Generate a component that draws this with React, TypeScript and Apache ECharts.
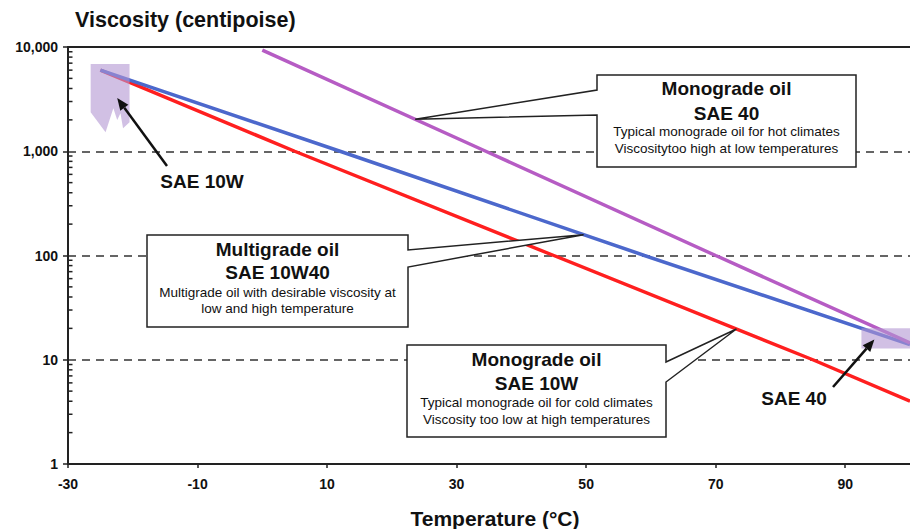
import React, { useEffect, useRef } from 'react';
import * as echarts from 'echarts';

// ---- Data ----
const xTickValues = [-30, -10, 10, 30, 50, 70, 90];
const yDecades = [1, 10, 100, 1000];
const yMinorMultipliers = [2, 3, 4, 5, 6, 7, 8, 9];

const temps10W = [-25, 5, 45, 85, 100];
const visc10W = [6000, 1000, 100, 10, 4];

const temps10W40 = [-25, 12, 59, 100];
const visc10W40 = [6000, 1000, 100, 14];

const temps40 = [0, 34.5, 70, 100];
const visc40 = [9350, 1000, 100, 14.5];

// shaded viscosity ranges [temperature, viscosity]
const shade10W: number[][] = [
  [-26.5, 6870], [-20.5, 6870], [-20.5, 1900], [-21.5, 1660], [-21.9, 2320],
  [-22.4, 1990], [-23.0, 2590], [-24.2, 1520], [-26.5, 2370],
];
const shade40: number[][] = [[92.5, 20], [100, 20], [100, 12.8], [92.5, 12.8]];

const FONT = '"Liberation Sans", Arial, Helvetica, sans-serif';
const RED = '#ff1f1f';
const BLUE = '#4c68cc';
const PURPLE = '#b65cc4';
const INK = '#111';

function logInterp(ts: number[], vs: number[], t: number): number {
  for (let i = 0; i < ts.length - 1; i++) {
    if (t >= ts[i] && t <= ts[i + 1]) {
      const f = (t - ts[i]) / (ts[i + 1] - ts[i]);
      const l = Math.log10(vs[i]) + f * (Math.log10(vs[i + 1]) - Math.log10(vs[i]));
      return Math.pow(10, l);
    }
  }
  return vs[vs.length - 1];
}

const zip = (a: number[], b: number[]) => a.map((t, i) => [t, b[i]]);

export default function App() {
  const ref = useRef<HTMLDivElement>(null);
  useEffect(() => {
    if (!ref.current) return;
    const chart = echarts.init(ref.current, undefined, { renderer: 'svg' });

    const minorTicks: number[][] = [];
    yDecades.forEach((d) => yMinorMultipliers.forEach((m) => minorTicks.push([-30, d * m])));

    const shadeSeries = (pts: number[][], name: string) => ({
      type: 'custom',
      name,
      z: 5,
      silent: true,
      data: [pts[0]],
      encode: { x: 0, y: 1 },
      renderItem: (params: any, api: any) => {
        const points = pts.map((p) => api.coord(p));
        return {
          type: 'polygon',
          shape: { points },
          style: { fill: 'rgba(178,150,210,0.6)' },
        };
      },
    });

    chart.setOption({
      animation: false,
      grid: { left: 68, top: 47, right: -11, bottom: 65 },
      xAxis: [
        {
          type: 'value',
          min: -30,
          max: 100,
          axisLine: { show: true, onZero: false, lineStyle: { color: '#222', width: 2 } },
          axisTick: { show: true, length: 4, customValues: xTickValues, lineStyle: { color: '#222', width: 1.5 } },
          axisLabel: {
            customValues: xTickValues,
            fontFamily: FONT,
            fontSize: 14,
            fontWeight: 'bold',
            color: INK,
            margin: 13,
          },
          splitLine: { show: false },
        },
        {
          type: 'value',
          position: 'top',
          min: -30,
          max: 100,
          axisLine: { show: true, onZero: false, lineStyle: { color: '#222', width: 2 } },
          axisTick: { show: false },
          axisLabel: { show: false },
          splitLine: { show: false },
        },
      ],
      yAxis: {
        type: 'log',
        logBase: 10,
        min: 1,
        max: 10000,
        axisLine: { show: true, onZero: false, lineStyle: { color: '#222', width: 2 } },
        axisTick: { show: true, length: 5, lineStyle: { color: '#222', width: 1.5 } },
        axisLabel: {
          formatter: (v: number) => Math.round(v).toLocaleString('en-US'),
          fontFamily: FONT,
          fontSize: 14,
          fontWeight: 'bold',
          color: INK,
          margin: 10,
        },
        splitLine: { show: true, lineStyle: { type: [8, 6], color: '#333', width: 1.5 } },
      },
      series: [
        {
          type: 'line', name: 'SAE 10W', data: zip(temps10W, visc10W), showSymbol: false,
          lineStyle: { color: RED, width: 3.5 }, z: 3,
        },
        {
          type: 'line', name: 'SAE 10W40', data: zip(temps10W40, visc10W40), showSymbol: false,
          lineStyle: { color: BLUE, width: 3.5 }, z: 3,
        },
        {
          type: 'line', name: 'SAE 40', data: zip(temps40, visc40), showSymbol: false,
          lineStyle: { color: PURPLE, width: 3.5 }, z: 3,
        },
        shadeSeries(shade10W, 'range10W'),
        shadeSeries(shade40, 'range40'),
        {
          type: 'custom',
          name: 'minorTicks',
          silent: true,
          z: 6,
          data: minorTicks,
          encode: { x: 0, y: 1 },
          renderItem: (params: any, api: any) => {
            const p = api.coord([api.value(0), api.value(1)]);
            return {
              type: 'line',
              shape: { x1: p[0], y1: p[1], x2: p[0] + 4.5, y2: p[1] },
              style: { stroke: '#222', lineWidth: 1.5 },
            };
          },
        },
      ],
    });

    const px = (t: number, v: number) => chart.convertToPixel({ xAxisIndex: 0, yAxisIndex: 0 }, [t, v]) as number[];

    const tip40 = px(23.6, logInterp(temps40, visc40, 23.6));
    const tip10W40 = px(49.6, logInterp(temps10W40, visc10W40, 49.6));
    const tip10W = px(73.2, logInterp(temps10W, visc10W, 73.2));
    const arrowTip10W = px(-22.4, 3240);
    const arrowTip40 = px(94.5, 15.6);

    const boxStyle = { fill: '#fff', stroke: '#222', lineWidth: 1.5 };
    const G: any[] = [];

    const text = (x: number, y: number, s: string, size: number, bold: boolean) => ({
      type: 'text',
      x,
      y,
      z: 20,
      silent: true,
      style: {
        text: s,
        font: `${bold ? 'bold ' : ''}${size}px ${FONT}`,
        fill: INK,
        align: 'center',
        verticalAlign: 'middle',
        textAlign: 'center',
        textVerticalAlign: 'middle',
      },
    });

    const arrow = (from: number[], to: number[]) => {
      const dx = to[0] - from[0];
      const dy = to[1] - from[1];
      const len = Math.sqrt(dx * dx + dy * dy);
      const ux = dx / len;
      const uy = dy / len;
      const hl = 12;
      const hw = 5;
      const bx = to[0] - ux * hl;
      const by = to[1] - uy * hl;
      G.push({
        type: 'line', z: 15, silent: true,
        shape: { x1: from[0], y1: from[1], x2: bx, y2: by },
        style: { stroke: '#111', lineWidth: 2.5 },
      });
      G.push({
        type: 'polygon', z: 15, silent: true,
        shape: { points: [to, [bx - uy * hw, by + ux * hw], [bx + uy * hw, by - ux * hw]] },
        style: { fill: '#111' },
      });
    };

    // Box 1: Monograde SAE 40
    G.push({
      type: 'polygon', z: 12, silent: true,
      shape: { points: [[597, 75], [856, 75], [856, 167], [597, 167], [597, 115], tip40, [597, 90]] },
      style: boxStyle,
    });
    G.push(text(726.5, 88, 'Monograde oil', 19, true));
    G.push(text(726.5, 113, 'SAE 40', 19, true));
    G.push(text(726.5, 131, 'Typical monograde oil for hot climates', 13.5, false));
    G.push(text(726.5, 148, 'Viscositytoo high at low temperatures', 13.5, false));

    // Box 2: Multigrade SAE 10W40
    G.push({
      type: 'polygon', z: 12, silent: true,
      shape: { points: [[147, 235], [408, 235], [408, 250], tip10W40, [408, 267], [408, 327], [147, 327]] },
      style: boxStyle,
    });
    G.push(text(277.5, 249, 'Multigrade oil', 19, true));
    G.push(text(277.5, 272, 'SAE 10W40', 19, true));
    G.push(text(277.5, 292, 'Multigrade oil with desirable viscosity at', 13.5, false));
    G.push(text(277.5, 308, 'low and high temperature', 13.5, false));

    // Box 3: Monograde SAE 10W
    G.push({
      type: 'polygon', z: 12, silent: true,
      shape: { points: [[407, 345], [666, 345], [666, 362], tip10W, [666, 382], [666, 437], [407, 437]] },
      style: boxStyle,
    });
    G.push(text(536.5, 359, 'Monograde oil', 19, true));
    G.push(text(536.5, 383, 'SAE 10W', 19, true));
    G.push(text(536.5, 402, 'Typical monograde oil for cold climates', 13.5, false));
    G.push(text(536.5, 419, 'Viscosity too low at high temperatures', 13.5, false));

    // Arrow labels
    G.push(text(202, 181, 'SAE 10W', 19, true));
    arrow([167, 166], arrowTip10W);
    G.push(text(794, 398, 'SAE 40', 19, true));
    arrow([833, 387], arrowTip40);

    // Axis titles
    G.push({
      type: 'text', x: 75, y: 20, z: 20, silent: true,
      style: {
        text: 'Viscosity (centipoise)', font: `bold 21.5px ${FONT}`, fill: INK,
        align: 'left', verticalAlign: 'middle', textAlign: 'left', textVerticalAlign: 'middle',
      },
    });
    G.push(text(495, 518, 'Temperature (°C)', 21, true));

    chart.setOption({ graphic: G });

    return () => chart.dispose();
  }, []);

  return (
    <div
      ref={ref}
      style={{ position: 'fixed', left: 0, top: 0, width: 910, height: 529, background: '#fff' }}
    />
  );
}
